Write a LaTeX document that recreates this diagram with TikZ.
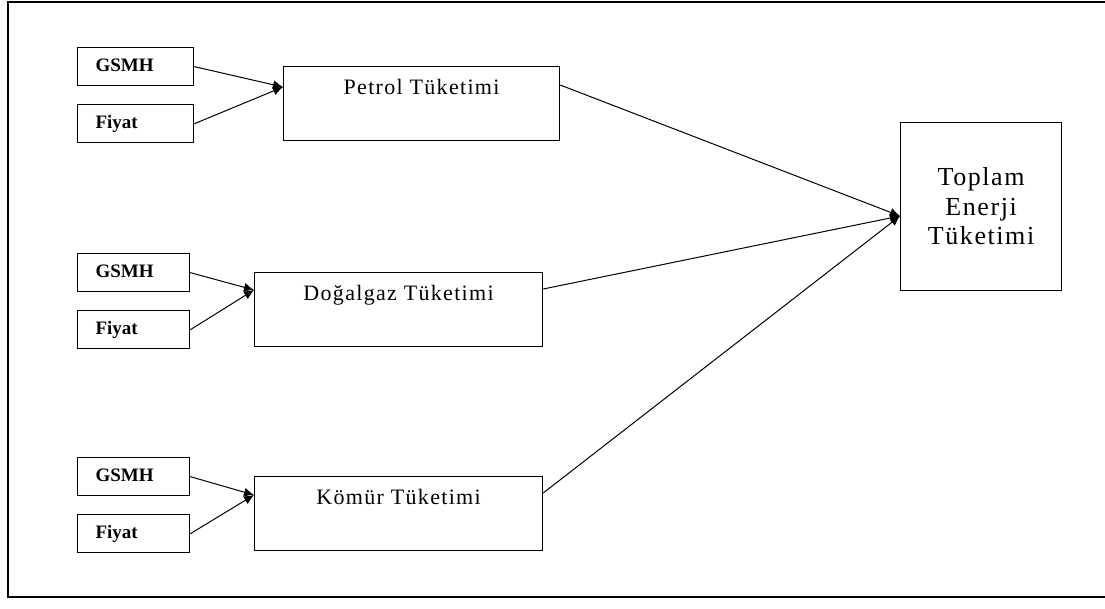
\documentclass[tikz,border=0pt]{standalone}
\usepackage{fontspec}
\setmainfont{Liberation Serif}
\newfontfamily\spacedfont[LetterSpace=6]{Liberation Serif}
\usetikzlibrary{arrows.meta,positioning}

\begin{document}
\begin{tikzpicture}[
  x=1pt, y=-1pt,
  node distance=18pt,
  inbox/.style={draw, line width=1.2pt, inner xsep=18pt, inner ysep=0pt, text width=76pt, align=left, text height=24pt, text depth=14pt, font=\fontsize{19}{22}\selectfont\bfseries},
  usebox/.style={draw, line width=1.2pt, inner sep=0pt, minimum width=288pt, text height=28pt, text depth=46pt, font=\spacedfont\fontsize{22}{26}\selectfont},
  totalbox/.style={draw, line width=1.2pt, inner sep=0pt, minimum width=161pt, minimum height=168pt, align=center, font=\spacedfont\fontsize{26}{29.5}\selectfont},
  arrow/.style={-{Latex[length=10pt,width=9pt]}, line width=1pt}
]
\useasboundingbox (0,0) rectangle (1105,608);
\draw[line width=2pt] (8,2) rectangle (1115,597);

% consumption boxes
\node[usebox, minimum width=276pt, anchor=north west] (petrol) at (283,66) {Petrol Tüketimi};
\node[usebox, anchor=north west] (dogalgaz) at (254,272) {Doğalgaz Tüketimi};
\node[usebox, anchor=north west] (komur) at (254,476) {Kömür Tüketimi};
\node[totalbox, anchor=north west] (toplam) at (900,122) {Toplam\\Enerji\\Tüketimi};

% inputs
\node[inbox, text width=80pt, anchor=north west] (gsmh1) at (77,47) {GSMH};
\node[inbox, text width=80pt, below=of gsmh1] (fiyat1) {Fiyat};
\node[inbox, anchor=north west] (gsmh2) at (77,253) {GSMH};
\node[inbox, below=of gsmh2] (fiyat2) {Fiyat};
\node[inbox, anchor=north west] (gsmh3) at (77,457) {GSMH};
\node[inbox, below=of gsmh3] (fiyat3) {Fiyat};

\coordinate (petrol in) at ([yshift=-21pt]petrol.north west);
\coordinate (dogalgaz in) at ([yshift=-18pt]dogalgaz.north west);
\coordinate (komur in) at ([yshift=-19pt]komur.north west);
\coordinate (petrol out) at ([yshift=-19pt]petrol.north east);
\coordinate (dogalgaz out) at ([yshift=-17pt]dogalgaz.north east);
\coordinate (komur out) at ([yshift=-17pt]komur.north east);
\coordinate (toplam in) at ([yshift=-94pt]toplam.north west);

\draw[arrow] (gsmh1.east) -- (petrol in);
\draw[arrow] (fiyat1.east) -- (petrol in);
\draw[arrow] (gsmh2.east) -- (dogalgaz in);
\draw[arrow] (fiyat2.east) -- (dogalgaz in);
\draw[arrow] (gsmh3.east) -- (komur in);
\draw[arrow] (fiyat3.east) -- (komur in);
\draw[arrow] (petrol out) -- (toplam in);
\draw[arrow] (dogalgaz out) -- (toplam in);
\draw[arrow] (komur out) -- (toplam in);
\end{tikzpicture}
\end{document}
